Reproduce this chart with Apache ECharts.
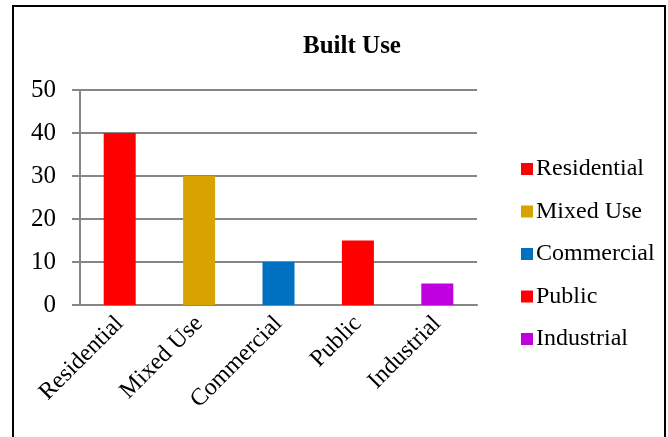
<!DOCTYPE html>
<html>
<head>
<meta charset="utf-8">
<script src="https://cdn.jsdelivr.net/npm/echarts@6/dist/echarts.min.js"></script>
<style>
  html, body { margin: 0; padding: 0; background: #fff; }
  #chart { width: 668px; height: 437px; }
</style>
</head>
<body>
<div id="chart"></div>
<script>
// 数据
const categories = ['Residential', 'Mixed Use', 'Commercial', 'Public', 'Industrial']
const values = [40, 30, 10, 15, 5]
const colors = ['#FF0000', '#D8A200', '#0070C0', '#FF0000', '#C000DF']
const yTicks = [0, 10, 20, 30, 40, 50]

const font = '"Liberation Serif", "Times New Roman", serif'

// one series per category so the legend lists each one
const series = categories.map((name, i) => ({
  name,
  type: 'bar',
  stack: 'all',
  barWidth: 32,
  itemStyle: { color: colors[i] },
  data: categories.map((c, j) => (j === i ? values[i] : '-'))
}))

const chart = echarts.init(document.getElementById('chart'))
chart.setOption({
  animation: false,
  title: {
    text: 'Built Use',
    left: 347,
    textAlign: 'center',
    top: 29,
    textStyle: { fontFamily: font, fontSize: 25, fontWeight: 'bold', color: '#000' }
  },
  legend: {
    orient: 'vertical',
    left: 516,
    top: 152,
    icon: 'rect',
    itemWidth: 12,
    itemHeight: 12,
    itemGap: 18.5,
    textStyle: { fontFamily: font, fontSize: 24, color: '#000', padding: [0, 0, 0, -2] },
    data: categories
  },
  grid: { left: 80, right: 191, top: 90, bottom: 132 },
  xAxis: {
    type: 'category',
    data: categories,
    axisLine: { lineStyle: { color: '#868686', width: 2 } },
    axisTick: { length: 6, lineStyle: { color: '#868686', width: 2 } },
    axisLabel: { interval: 0, rotate: 45, margin: 15, fontFamily: font, fontSize: 24, color: '#000' }
  },
  yAxis: {
    type: 'value',
    min: yTicks[0],
    max: yTicks[yTicks.length - 1],
    interval: 10,
    axisLine: { show: true, lineStyle: { color: '#868686', width: 2 } },
    axisTick: { show: true, length: 8, lineStyle: { color: '#868686', width: 2 } },
    splitLine: { lineStyle: { color: '#868686', width: 2 } },
    axisLabel: { margin: 24, fontFamily: font, fontSize: 25, color: '#000' }
  },
  graphic: [{
    type: 'rect',
    shape: { x: 13, y: 6, width: 652, height: 440 },
    style: { fill: null, stroke: '#000', lineWidth: 2 },
    silent: true
  }],
  series
})
</script>
</body>
</html>
